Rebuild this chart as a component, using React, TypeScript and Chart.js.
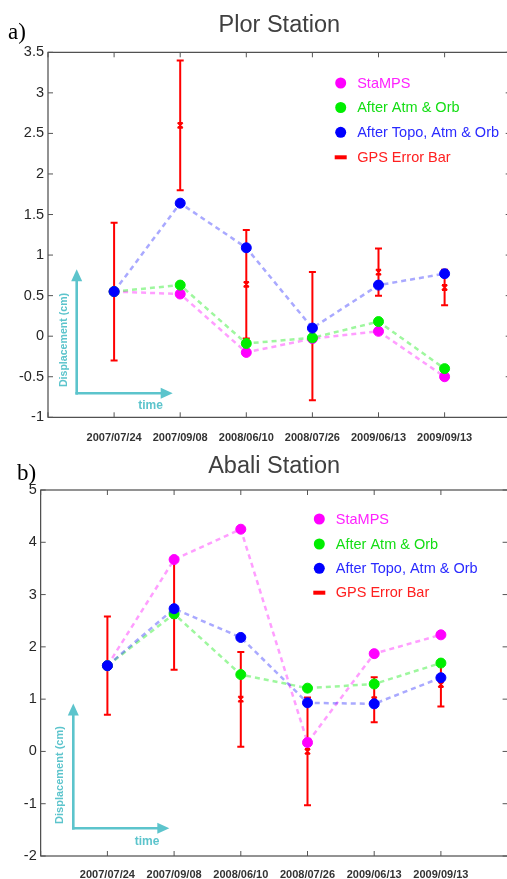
import { useEffect, useRef } from 'react';
import { Chart, registerables } from 'chart.js';

Chart.register(...registerables);

// Acquisition dates shared by both stations
const dates = ['2007/07/24', '2007/09/08', '2008/06/10', '2008/07/26', '2009/06/13', '2009/09/13'];
const seriesNames = ['StaMPS', 'After Atm & Orb', 'After Topo, Atm & Orb', 'GPS Error Bar'];

// Plor station displacement (cm)
const plorStamps = [0.55, 0.52, -0.2, -0.03, 0.06, -0.5];
const plorAtmOrb = [0.55, 0.63, -0.09, -0.02, 0.18, -0.4];
const plorTopoAtmOrb = [0.55, 1.64, 1.09, 0.1, 0.63, 0.77];
const plorGps = [0.55, 2.6, 0.64, 0.0, 0.79, 0.6];
const plorGpsLow = [-0.3, 1.8, -0.03, -0.79, 0.5, 0.38];
const plorGpsHigh = [1.4, 3.4, 1.31, 0.79, 1.08, 0.82];
const plorYTicks = { min: -1, max: 3.5, step: 0.5 };

// Abali station displacement (cm)
const abaliStamps = [1.64, 3.67, 4.25, 0.17, 1.87, 2.23];
const abaliAtmOrb = [1.64, 2.63, 1.47, 1.21, 1.29, 1.69];
const abaliTopoAtmOrb = [1.64, 2.73, 2.18, 0.93, 0.91, 1.41];
const abaliGps = [1.64, 2.6, 1.0, 0.0, 0.99, 1.28];
const abaliGpsLow = [0.7, 1.56, 0.09, -1.03, 0.56, 0.86];
const abaliGpsHigh = [2.58, 3.64, 1.9, 1.03, 1.42, 1.7];
const abaliYTicks = { min: -2, max: 5, step: 1 };

const SANS = '"Liberation Sans", Arial, Helvetica, sans-serif';
const SERIF = '"Liberation Serif", "Times New Roman", serif';
const AXIS_COLOR = '#262626';
const CUE_COLOR = '#5cc4cc';

const seriesStyle = [
  { solid: '#ff00ff', pale: 'rgba(255,0,255,0.38)', text: '#ff22ff', order: 3 },
  { solid: '#00ee00', pale: 'rgba(0,235,0,0.38)', text: '#14dd14', order: 2 },
  { solid: '#0000ff', pale: 'rgba(40,40,255,0.4)', text: '#2a2aff', order: 1 },
];
const GPS_COLOR = '#ff0000';

type Panel = {
  title: string;
  letter: string;
  series: number[][];
  gps: number[];
  gpsLow: number[];
  gpsHigh: number[];
  yTicks: { min: number; max: number; step: number };
  top: number;
  width: number;
  height: number;
  padTop: number;
  padRight: number;
  yAxisWidth: number;
  xAxisHeight: number;
  xLabelPad: number;
  yFontSize: number;
  titleY: number;
  letterX: number;
  letterY: number;
  legendX: number;
  legendY: number[];
  cue: { x: number; y: number; topY: number; rightX: number; labelX: number; labelY: number; labelSize: number; timeX: number; timeY: number };
};

const panels: Panel[] = [
  {
    title: 'Plor Station',
    letter: 'a)',
    series: [plorStamps, plorAtmOrb, plorTopoAtmOrb],
    gps: plorGps,
    gpsLow: plorGpsLow,
    gpsHigh: plorGpsHigh,
    yTicks: plorYTicks,
    top: 0,
    width: 512,
    height: 445,
    padTop: 52.3,
    padRight: 1.3,
    yAxisWidth: 48,
    xAxisHeight: 27.7,
    xLabelPad: 14,
    yFontSize: 14.5,
    titleY: 32,
    letterX: 8,
    letterY: 39,
    legendX: 340.7,
    legendY: [83, 107.5, 132.3, 157.3],
    cue: { x: 76.7, y: 393.3, topY: 269.3, rightX: 172.7, labelX: 64.3, labelY: 340, labelSize: 10.6, timeX: 150.5, timeY: 405.7 },
  },
  {
    title: 'Abali Station',
    letter: 'b)',
    series: [abaliStamps, abaliAtmOrb, abaliTopoAtmOrb],
    gps: abaliGps,
    gpsLow: abaliGpsLow,
    gpsHigh: abaliGpsHigh,
    yTicks: abaliYTicks,
    top: 445,
    width: 512,
    height: 434,
    padTop: 45,
    padRight: 4.4,
    yAxisWidth: 40.7,
    xAxisHeight: 23,
    xLabelPad: 12,
    yFontSize: 14.5,
    titleY: 27.5,
    letterX: 17,
    letterY: 35,
    legendX: 319.3,
    legendY: [74, 99, 123.3, 147.7],
    cue: { x: 73.3, y: 383.3, topY: 258.5, rightX: 169.3, labelX: 60, labelY: 330, labelSize: 11, timeX: 147, timeY: 396.7 },
  },
];

function drawArrow(ctx: CanvasRenderingContext2D, x0: number, y0: number, x1: number, y1: number) {
  const len = Math.hypot(x1 - x0, y1 - y0);
  const ux = (x1 - x0) / len;
  const uy = (y1 - y0) / len;
  const head = 12;
  const half = 5.5;
  const bx = x1 - ux * head;
  const by = y1 - uy * head;
  ctx.beginPath();
  ctx.moveTo(x0, y0);
  ctx.lineTo(bx + ux * 1, by + uy * 1);
  ctx.stroke();
  ctx.beginPath();
  ctx.moveTo(x1, y1);
  ctx.lineTo(bx - uy * half, by + ux * half);
  ctx.lineTo(bx + uy * half, by - ux * half);
  ctx.closePath();
  ctx.fill();
}

function StationChart({ panel }: { panel: Panel }) {
  const ref = useRef<HTMLCanvasElement>(null);

  useEffect(() => {
    const canvas = ref.current;
    if (!canvas) return;
    const p = panel;

    const datasets = p.series.map((values, s) => ({
      label: seriesNames[s],
      data: values.map((v, i) => ({ x: i + 1, y: v })),
      borderColor: seriesStyle[s].pale,
      borderWidth: 2.5,
      borderDash: [5, 4],
      pointBackgroundColor: seriesStyle[s].solid,
      pointBorderColor: seriesStyle[s].solid,
      pointRadius: 5,
      pointBorderWidth: 1,
      pointHoverRadius: 5,
      fill: false,
      tension: 0,
      order: seriesStyle[s].order,
    }));

    // MATLAB-style box with inward ticks on all four sides
    const framePlugin = {
      id: 'frame',
      afterDatasetsDraw(chart: any) {
        const { ctx, chartArea: a, scales } = chart;
        ctx.save();
        ctx.strokeStyle = AXIS_COLOR;
        ctx.lineWidth = 1;
        ctx.strokeRect(a.left, a.top, a.right - a.left, a.bottom - a.top);
        ctx.strokeStyle = '#555';
        const t = 5;
        ctx.beginPath();
        scales.x.ticks.forEach((tk: any) => {
          const x = scales.x.getPixelForValue(tk.value);
          ctx.moveTo(x, a.bottom);
          ctx.lineTo(x, a.bottom - t);
          ctx.moveTo(x, a.top);
          ctx.lineTo(x, a.top + t);
        });
        scales.y.ticks.forEach((tk: any) => {
          const y = scales.y.getPixelForValue(tk.value);
          ctx.moveTo(a.left, y);
          ctx.lineTo(a.left + t, y);
          ctx.moveTo(a.right, y);
          ctx.lineTo(a.right - t, y);
        });
        ctx.stroke();
        ctx.restore();
      },
    };

    // GPS error bars beneath the InSAR markers
    const errorBarPlugin = {
      id: 'gpsErrorBars',
      beforeDatasetsDraw(chart: any) {
        const { ctx, scales } = chart;
        ctx.save();
        ctx.strokeStyle = GPS_COLOR;
        ctx.lineWidth = 2;
        p.gps.forEach((g, i) => {
          const x = scales.x.getPixelForValue(i + 1);
          const yLo = scales.y.getPixelForValue(p.gpsLow[i]);
          const yHi = scales.y.getPixelForValue(p.gpsHigh[i]);
          const yC = scales.y.getPixelForValue(g);
          const cap = 3.5;
          ctx.beginPath();
          ctx.moveTo(x, yHi);
          ctx.lineTo(x, yLo);
          ctx.moveTo(x - cap, yHi);
          ctx.lineTo(x + cap, yHi);
          ctx.moveTo(x - cap, yLo);
          ctx.lineTo(x + cap, yLo);
          ctx.stroke();
          const m = 2.6;
          ctx.lineWidth = 1.6;
          ctx.beginPath();
          ctx.moveTo(x - m, yC - m);
          ctx.lineTo(x + m, yC + m);
          ctx.moveTo(x + m, yC - m);
          ctx.lineTo(x - m, yC + m);
          ctx.moveTo(x - m, yC - m);
          ctx.lineTo(x + m, yC - m);
          ctx.moveTo(x - m, yC + m);
          ctx.lineTo(x + m, yC + m);
          ctx.stroke();
          ctx.lineWidth = 2;
        });
        ctx.restore();
      },
    };

    // Title, panel letter, legend and the axis cue arrows
    const decorPlugin = {
      id: 'decor',
      afterDraw(chart: any) {
        const { ctx, chartArea: a } = chart;
        ctx.save();
        ctx.fillStyle = '#404040';
        ctx.font = `23.5px ${SANS}`;
        ctx.textAlign = 'center';
        ctx.textBaseline = 'alphabetic';
        ctx.fillText(p.title, (a.left + a.right) / 2, p.titleY);

        ctx.fillStyle = '#000';
        ctx.font = `23px ${SERIF}`;
        ctx.textAlign = 'left';
        ctx.fillText(p.letter, p.letterX, p.letterY);

        // legend
        ctx.font = `14.5px ${SANS}`;
        ctx.textBaseline = 'middle';
        seriesNames.forEach((name, s) => {
          const y = p.legendY[s];
          if (s < 3) {
            ctx.fillStyle = seriesStyle[s].solid;
            ctx.beginPath();
            ctx.arc(p.legendX, y, 5.5, 0, Math.PI * 2);
            ctx.fill();
            ctx.fillStyle = seriesStyle[s].text;
          } else {
            ctx.fillStyle = GPS_COLOR;
            ctx.fillRect(p.legendX - 6, y - 2, 12, 4);
            ctx.fillStyle = '#ff2020';
          }
          ctx.fillText(name, p.legendX + 16.5, y + 0.5);
        });

        // cue arrows
        const c = p.cue;
        ctx.strokeStyle = CUE_COLOR;
        ctx.fillStyle = CUE_COLOR;
        ctx.lineWidth = 2.6;
        drawArrow(ctx, c.x, c.y + 1.3, c.x, c.topY);
        drawArrow(ctx, c.x - 1.3, c.y, c.rightX, c.y);
        ctx.font = `bold ${c.labelSize}px ${SANS}`;
        ctx.textAlign = 'center';
        ctx.textBaseline = 'middle';
        ctx.save();
        ctx.translate(c.labelX, c.labelY);
        ctx.rotate(-Math.PI / 2);
        ctx.fillText('Displacement (cm)', 0, 0);
        ctx.restore();
        ctx.font = `bold 12px ${SANS}`;
        ctx.fillText('time', c.timeX, c.timeY);
        ctx.restore();
      },
    };

    const chart = new Chart(canvas, {
      type: 'line',
      data: { datasets },
      options: {
        animation: false,
        responsive: false,
        maintainAspectRatio: false,
        events: [],
        layout: {
          autoPadding: false,
          padding: { top: p.padTop, right: p.padRight, left: 0, bottom: 0 },
        },
        plugins: {
          legend: { display: false },
          tooltip: { enabled: false },
          title: { display: false },
        },
        scales: {
          x: {
            type: 'linear',
            min: 0,
            max: dates.length + 1,
            grid: { display: false, drawTicks: false },
            border: { display: false },
            ticks: {
              stepSize: 1,
              autoSkip: false,
              maxRotation: 0,
              padding: p.xLabelPad,
              color: '#333',
              font: { family: SANS, size: 11, weight: 'bold' },
              callback: (v: any) => {
                const i = Number(v) - 1;
                return i >= 0 && i < dates.length ? dates[i] : '';
              },
            },
            afterFit: (s: any) => {
              s.height = p.xAxisHeight;
              s.paddingLeft = 0;
              s.paddingRight = 0;
            },
          },
          y: {
            type: 'linear',
            min: p.yTicks.min,
            max: p.yTicks.max,
            grid: { display: false, drawTicks: false },
            border: { display: false },
            ticks: {
              stepSize: p.yTicks.step,
              padding: 4,
              color: AXIS_COLOR,
              font: { family: SANS, size: p.yFontSize },
              callback: (v: any) => String(Number(v)),
            },
            afterFit: (s: any) => {
              s.width = p.yAxisWidth;
              s.paddingTop = 0;
              s.paddingBottom = 0;
            },
          },
        },
      } as any,
      plugins: [errorBarPlugin, framePlugin, decorPlugin],
    });

    return () => chart.destroy();
  }, [panel]);

  return (
    <div
      style={{
        position: 'absolute',
        left: 0,
        top: panel.top,
        width: panel.width,
        height: panel.height,
      }}
    >
      <canvas
        ref={ref}
        width={panel.width}
        height={panel.height}
        style={{ display: 'block', width: panel.width, height: panel.height }}
      />
    </div>
  );
}

export default function App() {
  return (
    <div
      style={{
        position: 'fixed',
        left: 0,
        top: 0,
        width: 507,
        height: 879,
        overflow: 'hidden',
        background: '#fff',
      }}
    >
      {panels.map((p) => (
        <StationChart key={p.title} panel={p} />
      ))}
    </div>
  );
}
